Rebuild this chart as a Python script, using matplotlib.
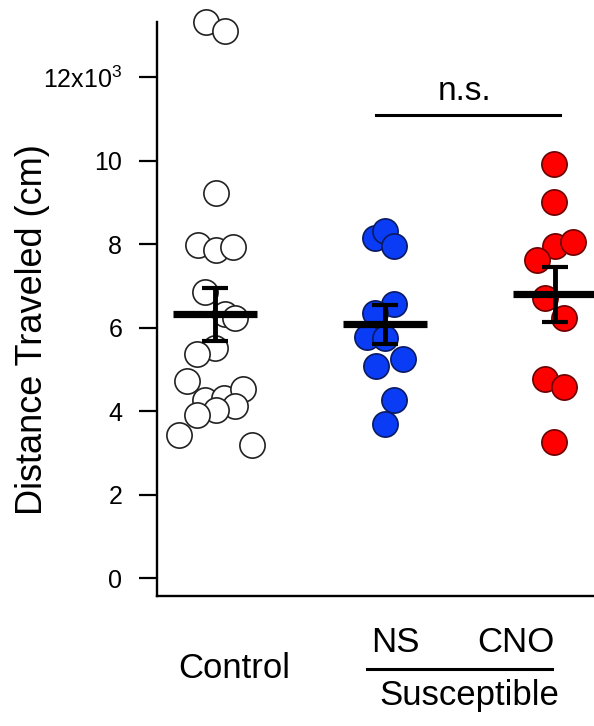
import numpy as np
import matplotlib
matplotlib.use("Agg")
import matplotlib.pyplot as plt

plt.rcParams["font.family"] = ["Liberation Sans", "DejaVu Sans"]
plt.rcParams["mathtext.fontset"] = "custom"
plt.rcParams["mathtext.rm"] = "Liberation Sans"
plt.rcParams["mathtext.it"] = "Liberation Sans"

# distance traveled, thousands of cm, with horizontal jitter offsets
control_vals = [13.32, 13.1, 9.22, 7.98, 7.86, 7.93, 6.85, 6.32, 6.23, 5.51,
                5.37, 4.72, 4.26, 4.31, 4.53, 4.12, 4.02, 3.90, 3.43, 3.19]
control_jit = [-0.053, 0.059, 0.006, -0.1, 0.006, 0.106, -0.059, 0.059, 0.118, 0.0,
               -0.106, -0.165, -0.059, 0.053, 0.165, 0.118, 0.006, -0.106, -0.212, 0.218]
ns_vals = [8.14, 8.31, 7.95, 6.56, 6.35, 5.77, 5.75, 5.08, 5.25, 4.26, 3.69]
ns_jit = [-0.059, 0.0, 0.053, 0.053, -0.059, -0.106, 0.0, -0.053, 0.106, 0.053, 0.0]
cno_vals = [9.92, 9.0, 7.95, 8.05, 7.62, 6.71, 6.23, 4.77, 4.58, 3.26]
cno_jit = [-0.006, -0.006, 0.0, 0.106, -0.106, -0.059, 0.053, -0.059, 0.053, -0.006]

means = [6.32, 6.08, 6.80]
sems = [0.64, 0.47, 0.66]

yticks = [0, 2, 4, 6, 8, 10, 12]
ytick_labels = ["0", "2", "4", "6", "8", "10", "12x10$^{3}$"]

groups = [
    (control_vals, control_jit, "white", "#222222"),
    (ns_vals, ns_jit, "#0a3cf5", "#0a1a60"),
    (cno_vals, cno_jit, "#ff0000", "#6a0000"),
]

fig = plt.figure(figsize=(5.94, 7.26), dpi=100)
ax = fig.add_axes([0.2643, 0.179, 0.7357, 0.7906])

for i, (vals, jit, face, edge) in enumerate(groups):
    x = i + np.array(jit)
    ax.scatter(x, vals, s=330, facecolor=face, edgecolor=edge, linewidth=1.2,
               zorder=2, clip_on=False)

pos = np.arange(3)
ax.hlines(means, pos - 0.247, pos + 0.247, color="black", lw=5.2, zorder=4)
ax.errorbar(pos, means, yerr=sems, fmt="none", ecolor="black", elinewidth=3.5,
            capsize=9.7, capthick=3, zorder=4)

# n.s. bracket
ax.plot([0.947, 2.03], [11.09, 11.09], color="black", lw=2.2, clip_on=False)
ax.text(1.47, 11.45, "n.s.", fontsize=24, ha="center", va="baseline")

ax.set_xlim(-0.341, 2.229)
ax.set_ylim(-0.43, 13.32)
ax.set_yticks(yticks)
ax.set_yticklabels(ytick_labels)
ax.set_xticks([])
ax.tick_params(axis="y", length=13, width=1.6, pad=12, labelsize=18)
for s in ["top", "right"]:
    ax.spines[s].set_visible(False)
for s in ["left", "bottom"]:
    ax.spines[s].set_linewidth(1.7)

tr = ax.get_xaxis_transform()
ax.text(0.112, -0.1429, "Control", transform=tr, fontsize=25, ha="center", va="baseline")
ax.text(1.059, -0.0976, "NS", transform=tr, fontsize=25, ha="center", va="baseline")
ax.text(1.771, -0.0976, "CNO", transform=tr, fontsize=25, ha="center", va="baseline")
ax.plot([0.894, 1.982], [-0.1272, -0.1272], transform=tr, color="black", lw=2.2, clip_on=False)
ax.text(1.494, -0.1899, "Susceptible", transform=tr, fontsize=25, ha="center", va="baseline")

fig.text(33 / 594, 1 - 330 / 726, "Distance Traveled (cm)", rotation=90,
         fontsize=26, ha="center", va="center")

fig.savefig("out.png", dpi=100)
